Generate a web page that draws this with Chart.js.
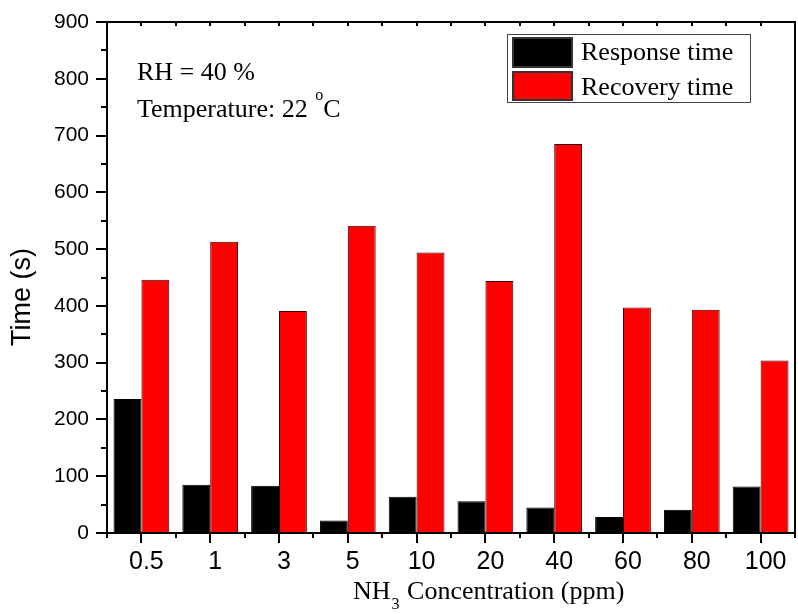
<!DOCTYPE html>
<html>
<head>
<meta charset="utf-8">
<script src="https://cdn.jsdelivr.net/npm/chart.js@4"></script>
<style>
  html, body { margin: 0; padding: 0; background: #fff; }
  #c { display: block; }
</style>
</head>
<body>
<canvas id="c" width="798" height="614"></canvas>
<script>
// ---- data ----
const categories = ['0.5', '1', '3', '5', '10', '20', '40', '60', '80', '100'];
const responseTime = [236, 85, 83, 22, 64, 56, 45, 28, 41, 82];
const recoveryTime = [446, 513, 391, 541, 494, 444, 685, 397, 393, 304];
const seriesNames = ['Response time', 'Recovery time'];
const yMin = 0, yMax = 900, yStep = 100;

const SANS = "'Liberation Sans', Arial, sans-serif";
const SERIF = "'Liberation Serif', 'Times New Roman', serif";

function txt(ctx, text, x, y, font) {
  ctx.font = font;
  ctx.fillText(text, x, y);
  return ctx.measureText(text).width;
}

function boxOutline(ctx, x, y, w, h, lw, color) {
  ctx.fillStyle = color;
  ctx.fillRect(x, y, w, lw);
  ctx.fillRect(x, y + h - lw, w, lw);
  ctx.fillRect(x, y, lw, h);
  ctx.fillRect(x + w - lw, y, lw, h);
}

function drawFrame(chart) {
  const ctx = chart.ctx;
  const a = chart.chartArea;
  const xs = chart.scales.x, ys = chart.scales.y;
  ctx.save();
  ctx.globalAlpha = 1;
  ctx.globalCompositeOperation = 'source-over';
  const L = Math.round(a.left), R = Math.round(a.right), T = Math.round(a.top), B = Math.round(a.bottom);
  boxOutline(ctx, L - 1, T - 1, R - L + 2, B - T + 2, 2, '#000000');
  ctx.fillStyle = '#000000';
  for (let v = yMin; v <= yMax; v += yStep / 2) {
    const py = Math.round(ys.getPixelForValue(v));
    const len = (v % yStep === 0) ? 10 : 5;
    ctx.fillRect(L - 1 - len, py - 1, len, 2);
  }
  for (let i = 0; i < categories.length; i++) {
    const px = Math.round(xs.getPixelForValue(i));
    ctx.fillRect(px - 1, B, 2, 10);
    ctx.fillRect(px - 1, T, 2, 4);
  }
  for (let i = 0; i <= categories.length; i++) {
    const px = Math.round(xs.getPixelForValue(i - 0.5));
    ctx.fillRect(px - 1, B, 2, 5);
    ctx.fillRect(px - 1, T, 2, 4);
  }
  ctx.restore();
}

const plugin = {
  id: 'decor',
  beforeDatasetsDraw(chart) { drawFrame(chart); },
  afterDraw(chart) {
    const ctx = chart.ctx;
    ctx.save();
    ctx.fillStyle = '#000';
    ctx.save();
    ctx.translate(23, 297);
    ctx.rotate(-Math.PI / 2);
    ctx.font = '27px ' + SANS;
    ctx.textAlign = 'center';
    ctx.textBaseline = 'middle';
    ctx.fillText('Time (s)', 0, 0);
    ctx.restore();

    ctx.textAlign = 'left';
    ctx.textBaseline = 'alphabetic';
    ctx.fillStyle = '#000';
    let tx = 353;
    tx += txt(ctx, 'NH', tx, 599, '26px ' + SERIF);
    tx += 1;
    tx += txt(ctx, '3', tx, 609, '16px ' + SERIF);
    tx += 1;
    txt(ctx, ' Concentration (ppm)', tx, 599, '26px ' + SERIF);

    const af = '26px ' + SERIF;
    txt(ctx, 'RH = 40 %', 137, 80, af);
    let ax = 137;
    ax += txt(ctx, 'Temperature: 22 ', ax, 117, af);
    ax += txt(ctx, 'o', ax + 1, 100, '16px ' + SERIF) + 1;
    txt(ctx, 'C', ax, 117, af);

    boxOutline(ctx, 507, 34, 244, 69, 1, '#444');
    const colors = chart.data.datasets.map(d => d.backgroundColor);
    const rows = [{ y: 37, h: 31, base: 60 }, { y: 71, h: 30, base: 95 }];
    rows.forEach((r, i) => {
      ctx.fillStyle = colors[i];
      ctx.fillRect(512, r.y, 61, r.h);
      boxOutline(ctx, 512, r.y, 61, r.h, 2, '#333');
      ctx.fillStyle = '#000';
      txt(ctx, seriesNames[i], 581, r.base, af);
    });
    ctx.restore();
    drawFrame(chart);
  }
};

new Chart(document.getElementById('c'), {
  type: 'bar',
  data: {
    labels: categories,
    datasets: [
      { label: seriesNames[0], data: responseTime, backgroundColor: '#000000', borderColor: '#000000', borderWidth: 1 },
      { label: seriesNames[1], data: recoveryTime, backgroundColor: '#ff0000', borderColor: '#3a0000', borderWidth: 1 }
    ]
  },
  options: {
    responsive: false,
    animation: false,
    devicePixelRatio: 1,
    layout: { padding: { left: 0, right: 3, top: 22, bottom: 0 } },
    datasets: { bar: { categoryPercentage: 0.81, barPercentage: 1.0 } },
    plugins: { legend: { display: false }, tooltip: { enabled: false } },
    scales: {
      x: {
        grid: { display: true, drawOnChartArea: false, offset: false, color: '#000', lineWidth: 2, tickLength: 10 },
        border: { display: true, color: '#000', width: 2 },
        ticks: { color: '#000', font: { family: SANS, size: 25 }, padding: 4, maxRotation: 0, autoSkip: false, labelOffset: 5 },
        afterFit: s => { s.height = 81; }
      },
      y: {
        min: yMin, max: yMax,
        grid: { display: true, drawOnChartArea: false, color: '#000', lineWidth: 2, tickLength: 10 },
        border: { display: true, color: '#000', width: 2 },
        ticks: { stepSize: yStep, color: '#000', font: { family: SANS, size: 21 }, padding: 8 },
        afterFit: s => { s.width = 107; }
      }
    }
  },
  plugins: [plugin]
});
</script>
</body>
</html>
